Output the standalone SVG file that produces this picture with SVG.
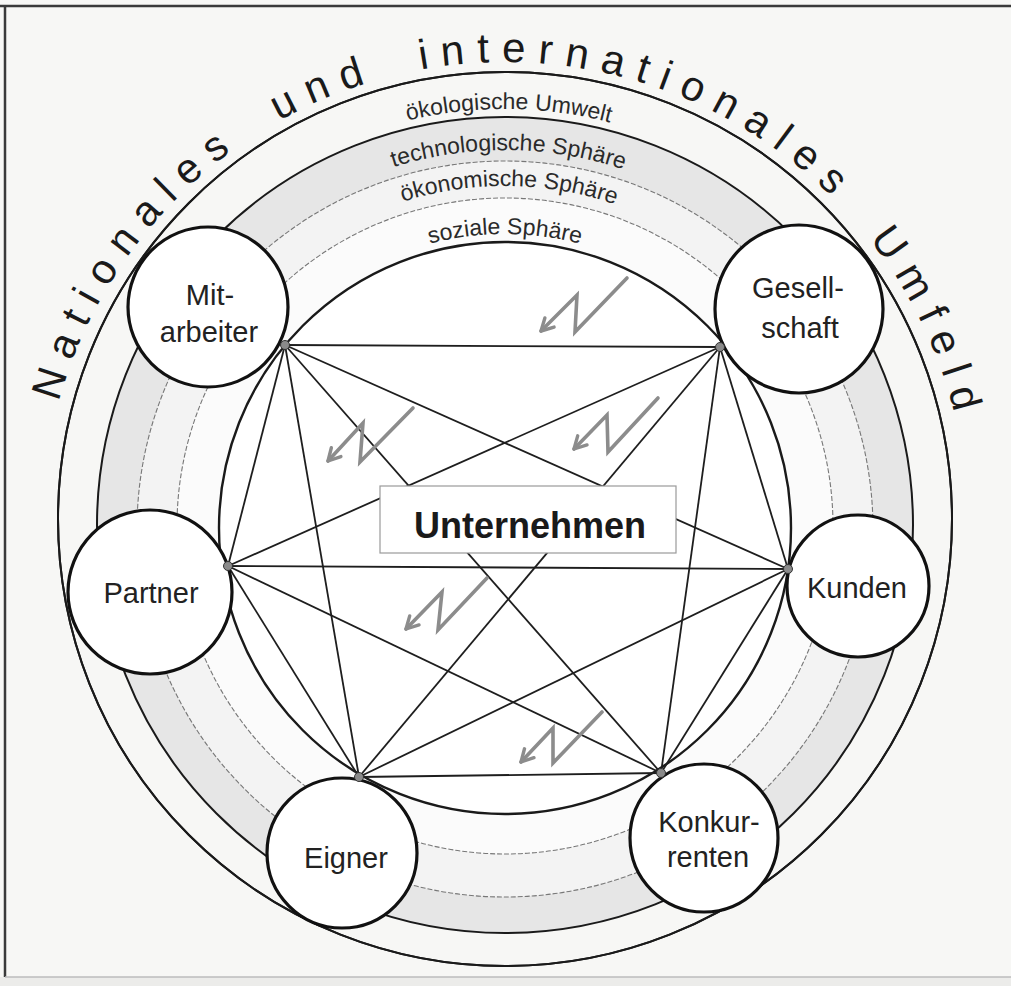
<svg xmlns="http://www.w3.org/2000/svg" width="1011" height="986" viewBox="0 0 1011 986">
<defs>
<style>
.ring{fill:none;stroke:#1a1a1a;stroke-width:2}
.dash{fill:none;stroke:#777;stroke-width:1.1;stroke-dasharray:5 2}
.edge{stroke:#1e1e1e;stroke-width:1.8;fill:none}
.node{fill:#fff;stroke:#111;stroke-width:3.2}
.nt{font-family:"Liberation Sans",Arial,sans-serif;font-size:29px;fill:#222;text-anchor:middle}
.rl{font-family:"Liberation Sans",Arial,sans-serif;font-size:23px;fill:#2a2a2a;text-anchor:middle}
.big{font-family:"Liberation Sans",Arial,sans-serif;font-size:42px;fill:#1a1a1a;text-anchor:middle;letter-spacing:12.4px;word-spacing:20px}
.dot{fill:#8a8a8a;stroke:#333;stroke-width:1}
.arrow{fill:none;stroke:#8c8c8c;stroke-width:3.6;stroke-linejoin:miter;stroke-linecap:round}
</style>
<marker id="ah" viewBox="0 0 18 18" refX="15" refY="9" markerWidth="18" markerHeight="18" markerUnits="userSpaceOnUse" orient="auto">
<path d="M3,2.5 L15,9 L3,15.5" fill="none" stroke="#8c8c8c" stroke-width="3.4" stroke-linecap="round" stroke-linejoin="round"/>
</marker>
<path id="pBig" d="M 42 525 A 463 463 0 0 1 968 525"/>
<path id="p1" d="M 89 525 A 416 416 0 0 1 921 525"/>
<path id="p2" d="M 130 525 A 375 375 0 0 1 880 525"/>
<path id="p3" d="M 166 525 A 339 339 0 0 1 844 525"/>
<path id="p4" d="M 214 525 A 291 291 0 0 1 796 525"/>
</defs>

<rect x="0" y="0" width="1011" height="986" fill="#f7f7f5"/>
<rect x="0" y="977" width="1011" height="9" fill="#ececea"/>
<line x1="0" y1="6" x2="1011" y2="6" stroke="#3a3a3a" stroke-width="2.5"/>
<line x1="5" y1="6" x2="5" y2="977" stroke="#3a3a3a" stroke-width="2.5"/>
<line x1="5" y1="977" x2="1011" y2="977" stroke="#bdbdbd" stroke-width="1.5"/>

<g id="rings">
<circle cx="505" cy="519" r="447" fill="#fff" class="ring"/>
<circle cx="505" cy="525" r="408" fill="#e6e6e6"/>
<circle cx="505" cy="529" r="368" fill="#f3f3f3"/>
<circle cx="505" cy="526" r="328" fill="#fbfbfb"/>
<circle cx="505" cy="528" r="286" fill="#fff"/>
<circle cx="505" cy="519" r="447" class="ring"/>
<circle cx="505" cy="525" r="408" class="ring"/>
<circle cx="505" cy="529" r="368" class="dash"/>
<circle cx="505" cy="526" r="328" class="dash"/>
<circle cx="505" cy="528" r="286" class="ring" style="stroke-width:2.4"/>
</g>

<g id="ring-labels">
<text class="rl"><textPath href="#p1" startOffset="50.3%">ökologische Umwelt</textPath></text>
<text class="rl"><textPath href="#p2" startOffset="50.3%">technologische Sphäre</textPath></text>
<text class="rl"><textPath href="#p3" startOffset="50.4%">ökonomische Sphäre</textPath></text>
<text class="rl"><textPath href="#p4" startOffset="50%">soziale Sphäre</textPath></text>
</g>

<g id="title">
<text class="big"><textPath href="#pBig" startOffset="50.8%">Nationales und internationales Umfeld</textPath></text>
</g>

<g id="connectors">
<line class="edge" x1="285" y1="345" x2="720" y2="347"/>
<line class="edge" x1="285" y1="345" x2="228" y2="566"/>
<line class="edge" x1="285" y1="345" x2="788" y2="569"/>
<line class="edge" x1="285" y1="345" x2="359" y2="777"/>
<line class="edge" x1="285" y1="345" x2="661" y2="773"/>
<line class="edge" x1="720" y1="347" x2="228" y2="566"/>
<line class="edge" x1="720" y1="347" x2="788" y2="569"/>
<line class="edge" x1="720" y1="347" x2="359" y2="777"/>
<line class="edge" x1="720" y1="347" x2="661" y2="773"/>
<line class="edge" x1="228" y1="566" x2="788" y2="569"/>
<line class="edge" x1="228" y1="566" x2="359" y2="777"/>
<line class="edge" x1="228" y1="566" x2="661" y2="773"/>
<line class="edge" x1="788" y1="569" x2="359" y2="777"/>
<line class="edge" x1="788" y1="569" x2="661" y2="773"/>
<line class="edge" x1="359" y1="777" x2="661" y2="773"/>
</g>

<g id="unternehmen">
<rect x="380" y="486" width="296" height="67" fill="#fff" stroke="#9a9a9a" stroke-width="1.2"/>
<text x="530" y="538" font-family="Liberation Sans, Arial, sans-serif" font-size="36" font-weight="bold" fill="#1a1a1a" text-anchor="middle">Unternehmen</text>
</g>

<g id="arrows">
<polyline class="arrow" points="627,278 575,332 577,295 541,331" marker-end="url(#ah)"/>
<polyline class="arrow" points="658,398 608,452 607,415 574,449" marker-end="url(#ah)"/>
<polyline class="arrow" points="413,408 360,462 363,423 328,461" marker-end="url(#ah)"/>
<polyline class="arrow" points="487,578 438,630 442,592 406,629" marker-end="url(#ah)"/>
<polyline class="arrow" points="602,712 553,763 553,728 521,762" marker-end="url(#ah)"/>
</g>

<g id="node-mitarbeiter">
<circle class="node" cx="208" cy="307" r="80"/>
<text class="nt" x="210" y="305">Mit-</text>
<text class="nt" x="209" y="342">arbeiter</text>
</g>
<g id="node-gesellschaft">
<circle class="node" cx="799" cy="309" r="84"/>
<text class="nt" x="798" y="298">Gesell-</text>
<text class="nt" x="800" y="338">schaft</text>
</g>
<g id="node-partner">
<circle class="node" cx="150" cy="592" r="82"/>
<text class="nt" x="151" y="603">Partner</text>
</g>
<g id="node-kunden">
<circle class="node" cx="858" cy="586" r="71"/>
<text class="nt" x="857" y="598">Kunden</text>
</g>
<g id="node-eigner">
<circle class="node" cx="342" cy="853" r="75"/>
<text class="nt" x="346" y="868">Eigner</text>
</g>
<g id="node-konkurrenten">
<circle class="node" cx="704" cy="838" r="74"/>
<text class="nt" x="709" y="832">Konkur-</text>
<text class="nt" x="708" y="867">renten</text>
</g>

<g id="junctions">
<circle class="dot" cx="285" cy="345" r="4.5"/>
<circle class="dot" cx="720" cy="347" r="4.5"/>
<circle class="dot" cx="228" cy="566" r="4.5"/>
<circle class="dot" cx="788" cy="569" r="4.5"/>
<circle class="dot" cx="359" cy="777" r="4.5"/>
<circle class="dot" cx="661" cy="773" r="4.5"/>
</g>
</svg>
